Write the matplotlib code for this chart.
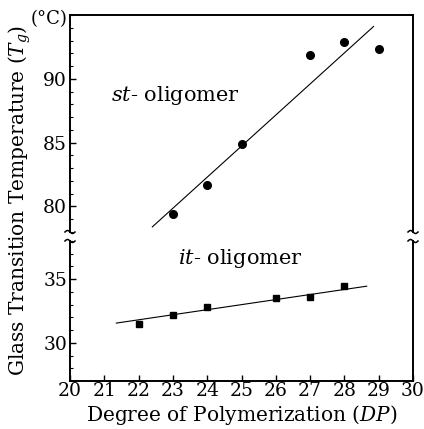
import numpy as np
import matplotlib
matplotlib.use('Agg')
import matplotlib.pyplot as plt
from matplotlib.ticker import MultipleLocator

plt.rcParams['font.family'] = 'DejaVu Serif'
plt.rcParams['mathtext.fontset'] = 'dejavuserif'

# st-oligomer (circles)
st_dp = [23, 24, 25, 27, 28, 29]
st_tg = [79.4, 81.7, 84.9, 91.9, 92.9, 92.3]
st_fit_dp = [22.4, 28.85]
st_fit_tg = [78.4, 94.1]

# it-oligomer (squares)
it_dp = [22, 23, 24, 26, 27, 28]
it_tg = [31.5, 32.2, 32.8, 33.5, 33.6, 34.5]
it_fit_dp = [21.35, 28.65]
it_fit_tg = [31.55, 34.45]

W, H = 424, 429
fig = plt.figure(figsize=(W / 100, H / 100), dpi=100)

left, right = 70 / W, 413 / W
ax_top = fig.add_axes([left, 1 - 232 / H, right - left, (232 - 15) / H])
ax_bot = fig.add_axes([left, 1 - 381 / H, right - left, (381 - 241) / H])

for ax in (ax_top, ax_bot):
    ax.set_xlim(20, 30)
    for s in ax.spines.values():
        s.set_linewidth(1.4)
    ax.yaxis.set_minor_locator(MultipleLocator(1))
    ax.tick_params(direction='in', which='major', length=4, width=1, labelsize=13.5,
                   top=False, right=False)
    ax.tick_params(axis='y', which='major', pad=2)
    ax.tick_params(axis='x', which='major', pad=1)
    ax.tick_params(direction='in', which='minor', length=2.5, width=0.8,
                   top=False, right=False)

# upper panel
ax_top.set_ylim(78.0, 95)
ax_top.set_yticks([80, 85, 90])
ax_top.spines['bottom'].set_visible(False)
ax_top.tick_params(axis='x', which='both', bottom=False, labelbottom=False)
ax_top.plot(st_fit_dp, st_fit_tg, color='black', lw=0.8)
ax_top.plot(st_dp, st_tg, 'o', color='black', ms=5.5)
ax_top.text(21.2, 88.7, r'$st$- oligomer', fontsize=15, ha='left', va='center')

# lower panel
ax_bot.set_ylim(27.0, 38.0)
ax_bot.set_yticks([30, 35])
ax_bot.set_xticks(range(20, 31))
ax_bot.spines['top'].set_visible(False)
ax_bot.plot(it_fit_dp, it_fit_tg, color='black', lw=0.8)
ax_bot.plot(it_dp, it_tg, 's', color='black', ms=5)
ax_bot.text(23.15, 36.6, r'$it$- oligomer', fontsize=15, ha='left', va='center')
ax_bot.set_xlabel(r'Degree of Polymerization ($DP$)', fontsize=14.5, va='center')
ax_bot.xaxis.set_label_coords(0.5, (381 - 415) / 140)

# axis break marks
t = np.linspace(-1, 1, 30)
for xp in (70, 413):
    for yp in (232, 241):
        xs = (xp + t * 5) / W
        ys = 1 - (yp + np.sin(t * np.pi) * 1.5) / H
        fig.add_artist(plt.Line2D(xs, ys, color='black', lw=1.1))

fig.text(20 / W, 1 - 200 / H, r'Glass Transition Temperature ($T_g$)',
         rotation=90, ha='center', va='center', fontsize=14.5)
fig.text(68 / W, 1 - 19 / H, '(°C)', ha='right', va='center', fontsize=13)

fig.savefig('out.png', dpi=100)
